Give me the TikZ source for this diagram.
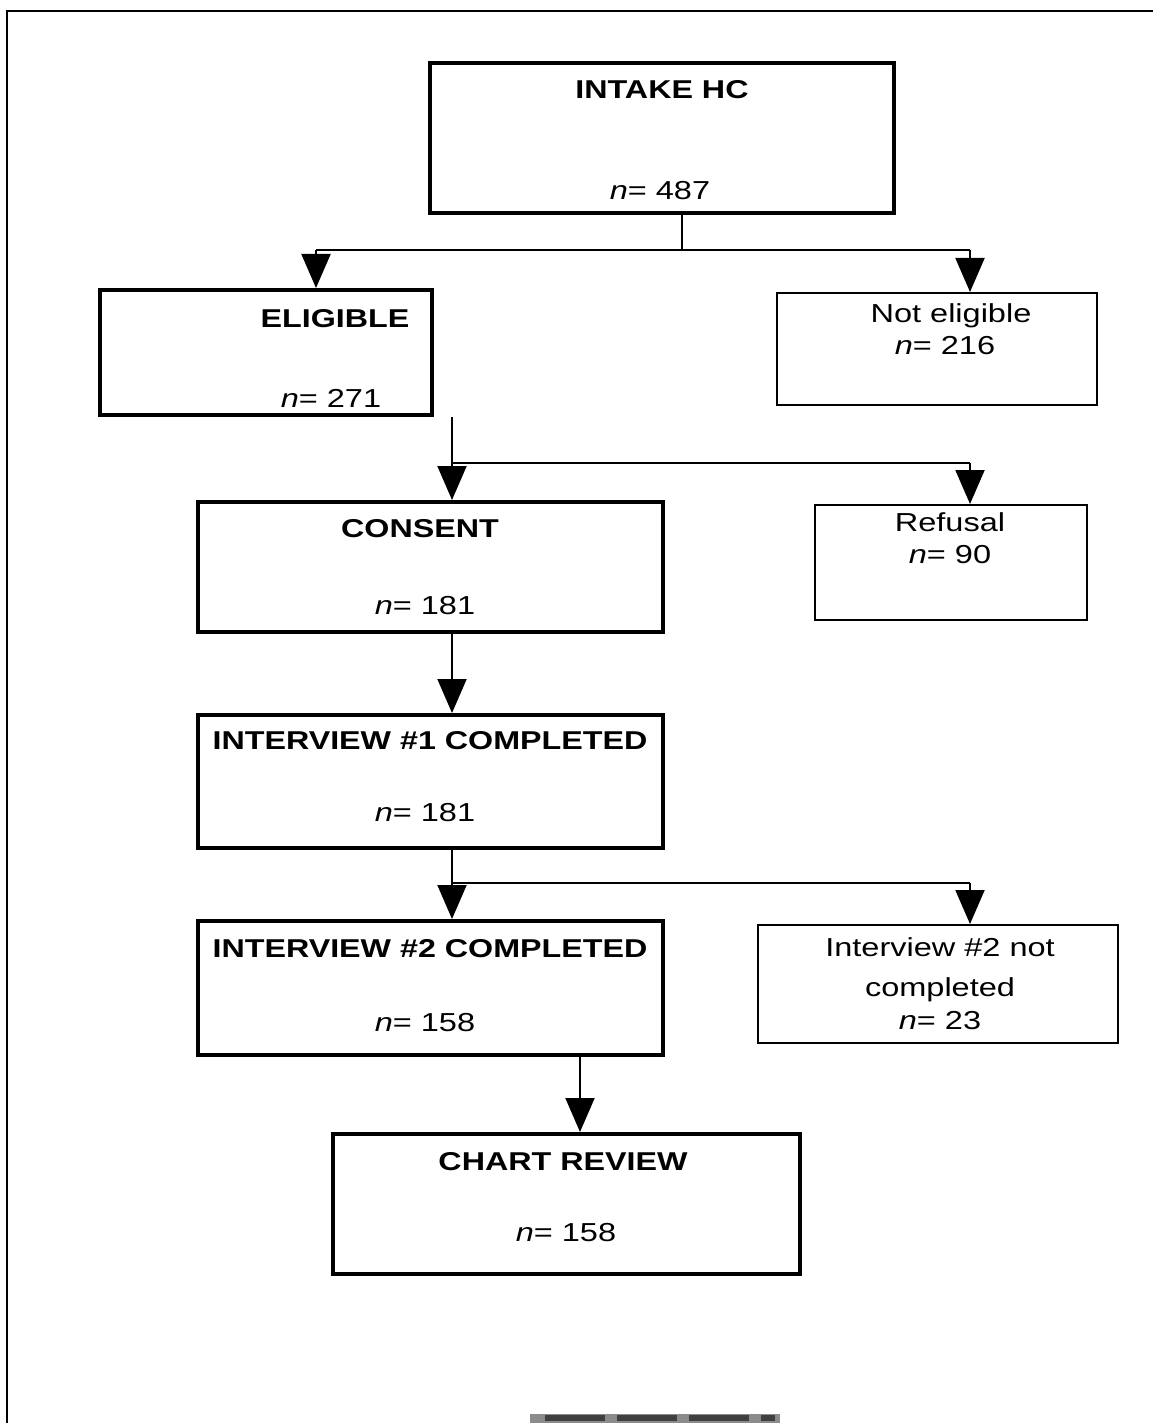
\documentclass[tikz,border=0pt]{standalone}
\usepackage{fontspec}
\setmainfont{Liberation Sans}[FakeStretch=1.25]
\usetikzlibrary{arrows.meta}
\begin{document}
\begin{tikzpicture}[x=0.5pt,y=-0.5pt,
  thickbox/.style={draw, line width=2pt, inner sep=0pt},
  thinbox/.style={draw, line width=1pt, inner sep=0pt},
  lbl/.style={anchor=base, inner sep=0pt, font=\fontsize{13}{15}\selectfont},
  blbl/.style={anchor=base, inner sep=0pt, font=\fontsize{12.9}{15}\selectfont\bfseries},
  conn/.style={line width=1pt},
  arr/.style={line width=1pt, -{Triangle[width=14.5pt,length=17pt]}}
]
\useasboundingbox (0,0) rectangle (1153,1423);
% frame
\coordinate (fBL) at (7,1423);
\coordinate (fTL) at (7,11);
\coordinate (fTR) at (1153,11);
\draw[line width=1.2pt] (fBL) -- (fTL) -- (fTR);
\fill[black!45] (530,1414) rectangle (780,1423);
\draw[black!75, line width=3pt, dash pattern=on 30pt off 6pt] (545,1418) -- (775,1418);

% boxes
\node[thickbox, minimum width=232pt, minimum height=75pt] (intake) at (662,138) {};
\node[thickbox, minimum width=166pt, minimum height=62.5pt] (eligible) at (266,352.5) {};
\node[thinbox, minimum width=160pt, minimum height=56pt] (noteligible) at (937,349) {};
\node[thickbox, minimum width=232.5pt, minimum height=65pt] (consent) at (430.5,567) {};
\node[thinbox, minimum width=136pt, minimum height=57.5pt] (refusal) at (951,562.5) {};
\node[thickbox, minimum width=232.5pt, minimum height=66.5pt] (int1) at (430.5,781.5) {};
\node[thickbox, minimum width=232.5pt, minimum height=67pt] (int2) at (430.5,988) {};
\node[thinbox, minimum width=180pt, minimum height=59pt] (notcomp) at (938,984) {};
\node[thickbox, minimum width=233.5pt, minimum height=70pt] (chart) at (566.5,1204) {};

% labels
\node[blbl] (t1a) at (662,99) {INTAKE HC};
\node[lbl] (t1b) at (660,200) {\textit{n}= 487};
\node[blbl] (t2a) at (335,327) {ELIGIBLE};
\node[lbl] (t2b) at (331,407) {\textit{n}= 271};
\node[lbl] (t3a) at (951,322) {Not eligible};
\node[lbl] (t3b) at (945,354) {\textit{n}= 216};
\node[blbl] (t4a) at (420,537) {CONSENT};
\node[lbl] (t4b) at (425,614) {\textit{n}= 181};
\node[lbl] (t5a) at (950,531) {Refusal};
\node[lbl] (t5b) at (950,563) {\textit{n}= 90};
\node[blbl] (t6a) at (430,749) {INTERVIEW \#1 COMPLETED};
\node[lbl] (t6b) at (425,821) {\textit{n}= 181};
\node[blbl] (t7a) at (430,957) {INTERVIEW \#2 COMPLETED};
\node[lbl] (t7b) at (425,1031) {\textit{n}= 158};
\node[lbl] (t8a) at (940,956) {Interview \#2 not};
\node[lbl] (t8b) at (940,996) {completed};
\node[lbl] (t8c) at (940,1029) {\textit{n}= 23};
\node[blbl] (t9a) at (563,1170) {CHART REVIEW};
\node[lbl] (t9b) at (566,1241) {\textit{n}= 158};

% connectors
\coordinate (j1) at (682,250);
\coordinate (j1L) at (316,250);
\coordinate (j1R) at (970,250);
\draw[conn] (intake.south -| j1) -- (j1);
\draw[conn] (j1L) -- (j1R);
\draw[arr] (j1L) -- (j1L |- eligible.north);
\draw[arr] (j1R) -- (j1R |- noteligible.north);

\coordinate (j2) at (452,463);
\coordinate (j2R) at (970,463);
\draw[conn] (eligible.south -| j2) -- (j2) -- (j2R);
\draw[arr] (j2) -- (j2 |- consent.north);
\draw[arr] (j2R) -- (j2R |- refusal.north);

\draw[arr] (consent.south -| j2) -- (int1.north -| j2);

\coordinate (j3) at (452,883);
\coordinate (j3R) at (970,883);
\draw[conn] (int1.south -| j3) -- (j3) -- (j3R);
\draw[arr] (j3) -- (j3 |- int2.north);
\draw[arr] (j3R) -- (j3R |- notcomp.north);

\coordinate (j4) at (580,1100);
\draw[arr] (int2.south -| j4) -- (chart.north -| j4);
\end{tikzpicture}
\end{document}
